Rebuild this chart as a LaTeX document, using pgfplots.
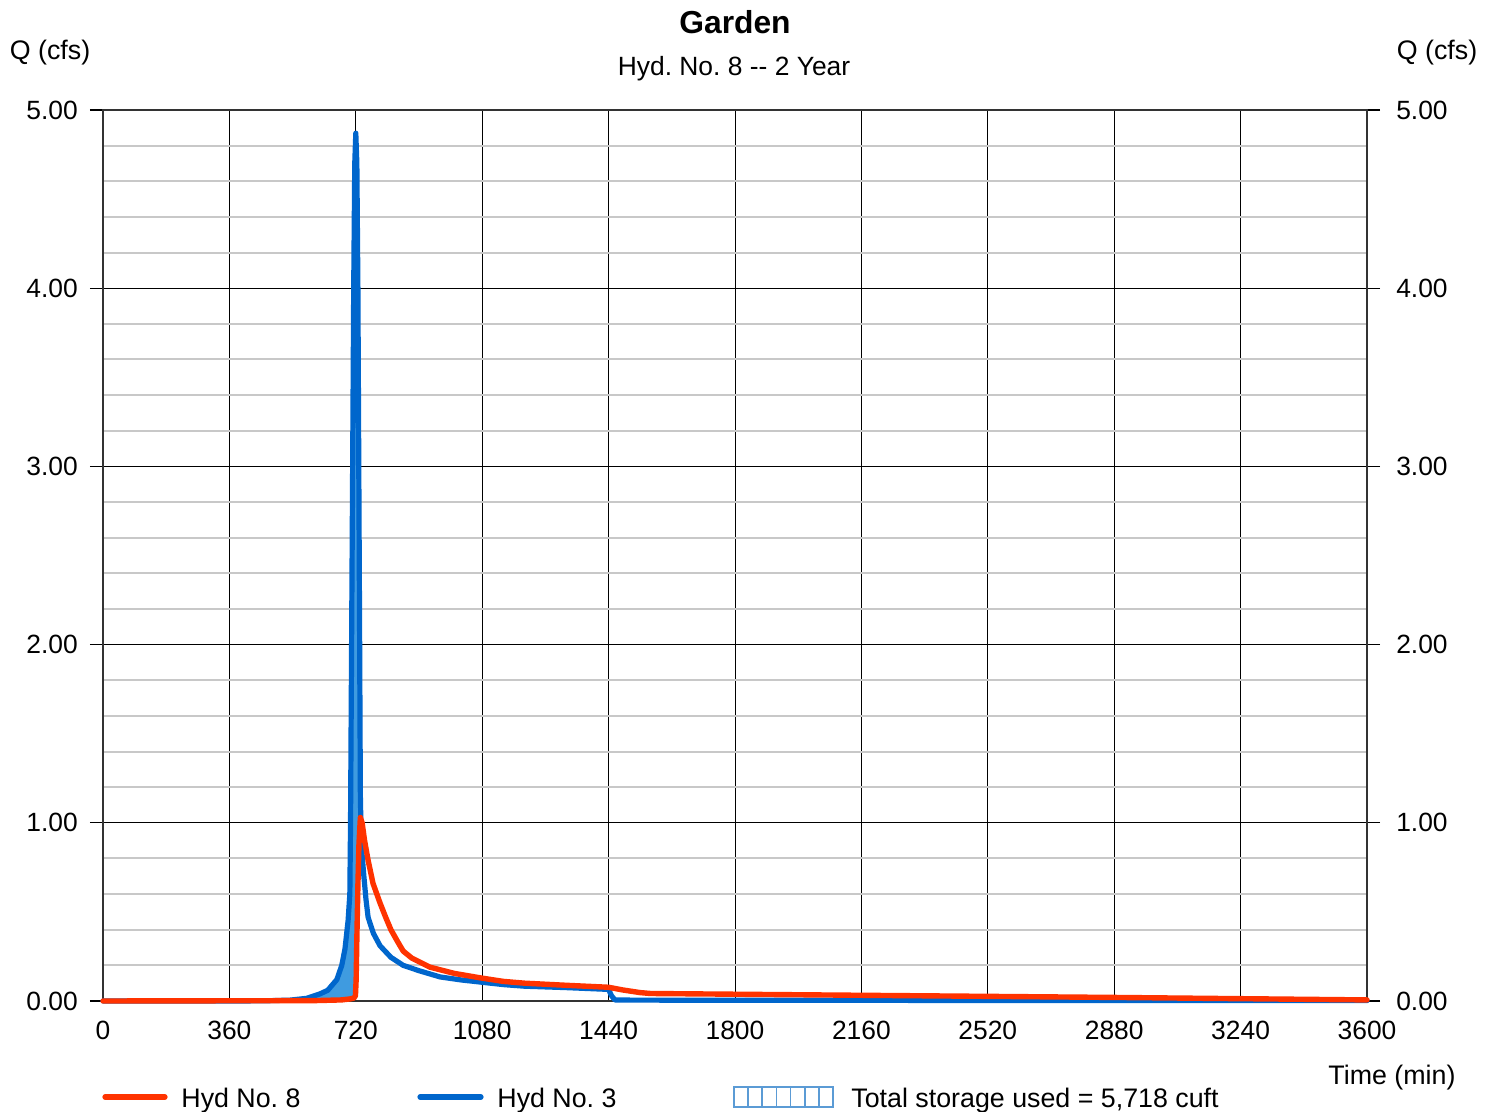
\documentclass[border=0pt]{standalone}
\usepackage{pgfplots}
\pgfplotsset{compat=1.18}
\usepackage{fontspec}
\setmainfont{Liberation Sans}
\frenchspacing
\definecolor{hred}{HTML}{FF3300}
\definecolor{hblue}{HTML}{0066CC}
\definecolor{hfill}{HTML}{3F9BE0}
\definecolor{mgrid}{HTML}{C8C8C8}
\definecolor{pat}{HTML}{5B9BD5}
\pgfplotstableread{
x y
0 0
400 0
480 0.002
533 0.005
580 0.015
618 0.04
640 0.06
666 0.12
680 0.20
689 0.29
698 0.45
703 0.60
705 1.0
708 2.0
711 3.0
714 4.0
717 4.7
720 4.87
723 4.7
726 4.0
728.5 3.0
731 2.0
733 1.15
735 0.95
738 0.82
743 0.70
749 0.57
755 0.47
770 0.38
789 0.31
820 0.245
855 0.20
900 0.17
960 0.135
1020 0.118
1080 0.105
1140 0.092
1200 0.083
1320 0.075
1440 0.065
1448 0.03
1458 0.006
1500 0.005
1800 0.004
2520 0.003
3600 0.002
}\hydthree
\pgfplotstableread{
x y
0 0
600 0.002
680 0.006
705 0.012
715 0.017
719 0.03
721 0.12
723 0.35
726 0.65
729 0.88
733 1.03
738 1.0
745 0.90
755 0.79
769 0.66
789 0.55
805 0.47
820 0.40
840 0.33
855 0.28
880 0.24
931 0.19
1000 0.155
1074 0.13
1140 0.11
1200 0.10
1320 0.088
1440 0.077
1480 0.062
1530 0.047
1560 0.042
1800 0.038
2160 0.032
2520 0.026
2880 0.020
3240 0.013
3600 0.006
}\hydeight
% storage area: Hyd No. 3 above Hyd No. 8, up to where they cross
\pgfplotstableread{
x y
480 0.002
533 0.005
580 0.015
618 0.04
640 0.06
666 0.12
680 0.20
689 0.29
698 0.45
703 0.60
705 1.0
708 2.0
711 3.0
714 4.0
717 4.7
720 4.87
723 4.7
726 4.0
728.5 3.0
731 2.0
733 1.15
734.5 1.02
733 1.03
729 0.88
726 0.65
723 0.35
721 0.12
719 0.03
715 0.017
705 0.012
680 0.006
600 0.002
480 0.001
}\storage
\begin{document}
\begin{tikzpicture}
\useasboundingbox (0pt,0pt) rectangle (747pt,556pt);
\begin{axis}[
  at={(51.5pt,55.5pt)}, anchor=south west,
  scale only axis, width=632pt, height=445.5pt,
  xmin=0, xmax=3600, ymin=0, ymax=5,
  clip=false,
  xtick={0,360,...,3600},
  ytick={0,1,2,3,4,5},
  minor y tick num=4,
  xmajorgrids, ymajorgrids, yminorgrids,
  major grid style={black, line width=0.5pt},
  minor grid style={mgrid, line width=1pt},
  axis line style={black!80, line width=0.6pt},
  tick align=outside,
  major tick length=6.5pt,
  minor tick length=0pt,
  xtick style={draw=none},
  ytick style={black, line width=0.6pt},
  ytick pos=both,
  yticklabel pos=left,
  xtick pos=bottom,
  /pgf/number format/assume math mode=true,
  ticklabel style={font=\fontsize{13.2}{15}\selectfont},
  yticklabel style={/pgf/number format/fixed, /pgf/number format/zerofill, /pgf/number format/precision=2, xshift=-2.6pt},
  xticklabel style={/pgf/number format/1000 sep={}, /pgf/number format/fixed, yshift=0.2pt},
]
\addplot[fill=hfill, draw=none] table[x=x,y=y] {\storage} -- cycle;
\addplot[hblue, line width=2.6pt, line cap=round, line join=round] table[x=x,y=y] {\hydthree};
\addplot[hred, line width=2.7pt, line cap=round, line join=round] table[x=x,y=y] {\hydeight};
\end{axis}
\begin{axis}[
  at={(51.5pt,55.5pt)}, anchor=south west,
  scale only axis, width=632pt, height=445.5pt,
  xmin=0, xmax=3600, ymin=0, ymax=5,
  axis x line=none,
  axis y line*=right,
  y axis line style={draw=none},
  ytick={0,1,2,3,4,5},
  tick align=outside,
  major tick length=6.5pt,
  ytick style={draw=none},
  /pgf/number format/assume math mode=true,
  ticklabel style={font=\fontsize{13.2}{15}\selectfont},
  yticklabel style={/pgf/number format/fixed, /pgf/number format/zerofill, /pgf/number format/precision=2, xshift=4.6pt},
]
\addplot[draw=none] coordinates {(0,0) (3600,5)};
\end{axis}
\node[font=\fontsize{15.9}{18}\selectfont\bfseries] at (367.5pt,545pt) {Garden};
\node[font=\fontsize{13.2}{15}\selectfont] at (367pt,521.5pt) {Hyd. No. 8 {-}{-} 2 Year};
\node[font=\fontsize{13.4}{15}\selectfont] at (25pt,529.5pt) {Q (cfs)};
\node[font=\fontsize{13.4}{15}\selectfont] at (718.5pt,529.5pt) {Q (cfs)};
\node[font=\fontsize{13.4}{15}\selectfont] at (696pt,17pt) {Time (min)};
% legend
\draw[hred, line width=2.6pt, line cap=round] (52.5pt,7.5pt) -- (82.5pt,7.5pt);
\node[font=\fontsize{13.4}{15}\selectfont, anchor=base west, inner sep=0pt] at (90.5pt,2.2pt) {Hyd No. 8};
\draw[hblue, line width=2.6pt, line cap=round] (210pt,7.5pt) -- (240.5pt,7.5pt);
\node[font=\fontsize{13.4}{15}\selectfont, anchor=base west, inner sep=0pt] at (248.5pt,2.2pt) {Hyd No. 3};
\draw[pat, line width=0.8pt] (367pt,2.5pt) rectangle (416.5pt,12.5pt);
\foreach \i in {1,...,6} {\draw[pat, line width=0.8pt] ({367pt+\i*7.07pt},2.5pt) -- ({367pt+\i*7.07pt},12.5pt);}
\node[font=\fontsize{13.4}{15}\selectfont, anchor=base west, inner sep=0pt] at (425.5pt,2.2pt) {Total storage used = 5,718 cuft};
\end{tikzpicture}
\end{document}
